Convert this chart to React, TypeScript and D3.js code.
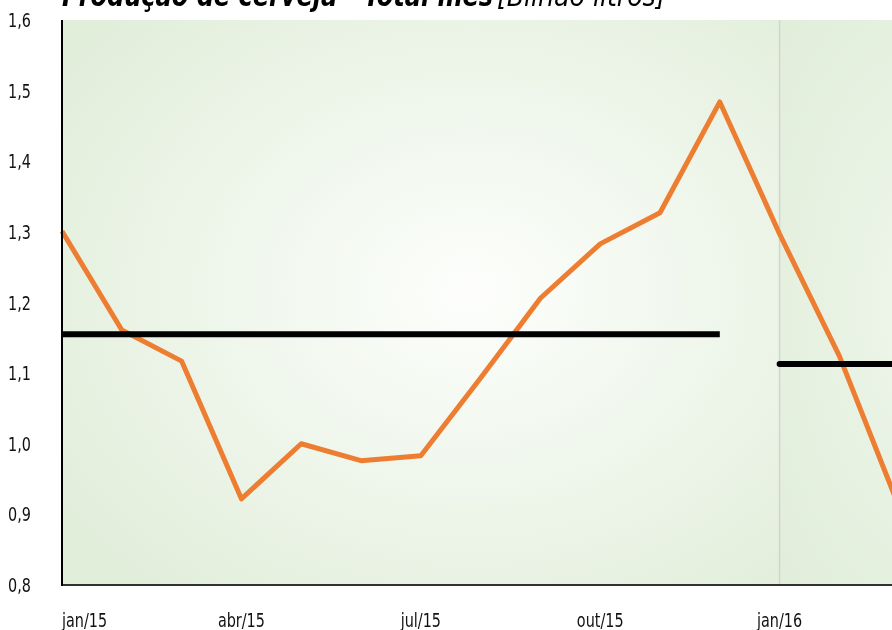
import React from "react";
import * as d3 from "d3";

const months = [
  "jan/15", "fev/15", "mar/15", "abr/15", "mai/15", "jun/15", "jul/15", "ago/15",
  "set/15", "out/15", "nov/15", "dez/15", "jan/16", "fev/16", "mar/16",
];
const production = [
  1.301, 1.161, 1.117, 0.922, 1.0, 0.976, 0.983, 1.093,
  1.206, 1.283, 1.327, 1.484, 1.297, 1.124, 0.91,
];
// média anual
const avg2015 = { from: "jan/15", to: "dez/15", value: 1.155 };
const avg2016 = { from: "jan/16", to: "mar/16", value: 1.113 };
const yTicks = [0.8, 0.9, 1.0, 1.1, 1.2, 1.3, 1.4, 1.5, 1.6];
const xTickLabels = ["jan/15", "abr/15", "jul/15", "out/15", "jan/16"];

const W = 892;
const H = 630;
const left = 62;
const top = 20;
const bottom = 585;
const font = "'DejaVu Sans Condensed', 'Liberation Sans Narrow', sans-serif";

// texto estreito, imitando a fonte condensada do original
const Narrow = ({ x, y, anchor = "start", size = 19, sx = 0.8, children, ...rest }: any) => (
  <text
    transform={`translate(${x},${y}) scale(${sx},1)`}
    textAnchor={anchor}
    fontFamily={font}
    fontSize={size}
    {...rest}
  >
    {children}
  </text>
);

const App = () => {
  const x = d3.scalePoint<string>().domain(months).range([left, left + 14 * 59.8]);
  const y = d3.scaleLinear().domain([0.8, 1.6]).range([bottom, top]);

  const line = d3
    .line<number>()
    .x((_, i) => x(months[i]) as number)
    .y((d) => y(d));

  const splitX = x("jan/16") as number;
  const fmt = (v: number) => v.toFixed(1).replace(".", ",");

  return (
    <div style={{ position: "fixed", left: 0, top: 0, width: W, height: H, overflow: "hidden" }}>
      <svg width={W} height={H} style={{ display: "block" }}>
        <defs>
          <radialGradient id="bgLeft" cx="57%" cy="48%" r="70%">
            <stop offset="0%" stopColor="#fdfefc" />
            <stop offset="100%" stopColor="#e1eeda" />
          </radialGradient>
          <radialGradient id="bgRight" cx="50%" cy="50%" r="70%">
            <stop offset="0%" stopColor="#eef6eb" />
            <stop offset="100%" stopColor="#e1eeda" />
          </radialGradient>
        </defs>

        {/* título cortado no topo */}
        <Narrow x={left} y={6} size={30} sx={0.89} fill="#000" fontWeight="bold" fontStyle="italic">
          Produção de cerveja - Total mês
        </Narrow>
        <Narrow x={497} y={6} size={28} sx={1.0} fill="#000" fontStyle="italic">
          [Bilhão litros]
        </Narrow>

        <rect x={left} y={top} width={splitX - left} height={bottom - top} fill="url(#bgLeft)" />
        <rect x={splitX} y={top} width={300} height={bottom - top} fill="url(#bgRight)" />
        <line x1={splitX} x2={splitX} y1={top} y2={bottom} stroke="#d3d3d3" strokeWidth={1.5} />

        {yTicks.map((t) => (
          <Narrow key={t} x={31} y={y(t) + 7} anchor="end" size={20} fill="#111">
            {fmt(t)}
          </Narrow>
        ))}

        {xTickLabels.map((m, i) => (
          <Narrow
            key={m}
            x={i === 0 ? left : (x(m) as number)}
            y={627}
            anchor={i === 0 ? "start" : "middle"}
            size={20}
            fill="#111"
          >
            {m}
          </Narrow>
        ))}

        <path d={line(production) ?? ""} fill="none" stroke="#ed7d31" strokeWidth={5} strokeLinejoin="round" />

        {[avg2015, avg2016].map((a) => (
          <line
            key={a.from}
            x1={x(a.from) as number}
            x2={x(a.to) as number}
            y1={y(a.value)}
            y2={y(a.value)}
            stroke="#000"
            strokeWidth={6}
            strokeLinecap={a.from === "jan/15" ? "butt" : "round"}
          />
        ))}

        <line x1={left} x2={W} y1={bottom} y2={bottom} stroke="#333" strokeWidth={2} />
        <line x1={left} x2={left} y1={top} y2={bottom + 1} stroke="#000" strokeWidth={2} />
      </svg>
    </div>
  );
};

export default App;
